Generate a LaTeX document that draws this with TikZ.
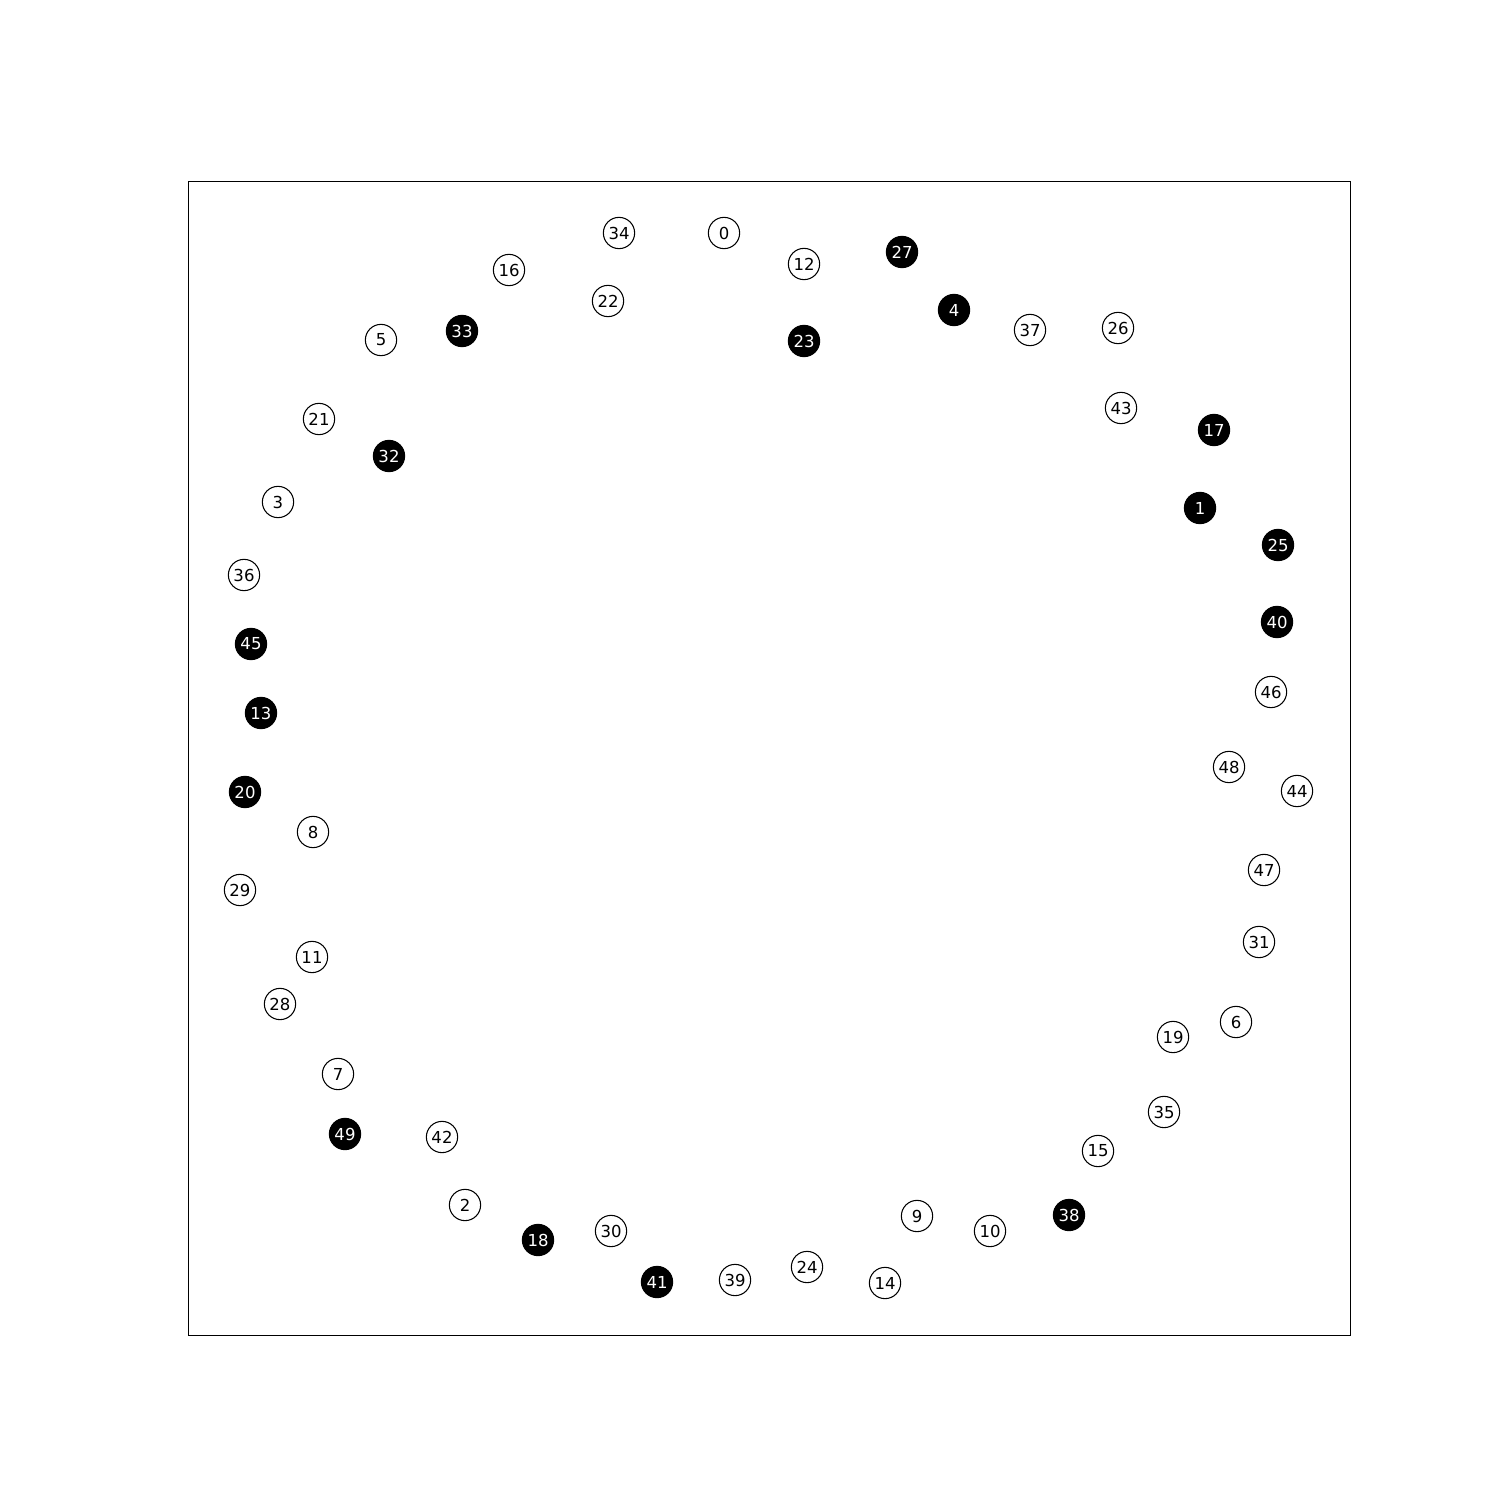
\documentclass[tikz,border=0pt]{standalone}
\usepackage{fontspec}
\setmainfont{DejaVu Sans}
\begin{document}
\begin{tikzpicture}[x=0.02cm,y=-0.02cm,
  wnode/.style={circle,draw=black,line width=0.6pt,fill=white,minimum size=17.8pt,inner sep=0pt,font=\fontsize{9.4}{10}\selectfont},
  bnode/.style={circle,draw=black,line width=0.6pt,fill=black,text=white,minimum size=17.8pt,inner sep=0pt,font=\fontsize{9.4}{10}\selectfont}]
\useasboundingbox (0,0) rectangle (1500,1500);
\draw[line width=0.5pt] (188,181) rectangle (1350,1335);
\foreach \n/\x/\y in {34/619/233,0/724/233,12/804/264,16/509/270,22/608/301,5/381/340,37/1030/330,26/1118/328,21/319/419,43/1121/408,3/278/502,36/244/575,46/1271/692,48/1229/767,44/1297/791,8/313/832,47/1264/870,29/240/890,31/1259/942,11/312/957,28/280/1004,6/1236/1022,19/1173/1037,7/338/1074,35/1164/1112,42/442/1137,15/1098/1151,2/465/1205,9/917/1216,10/990/1231,30/611/1231,39/735/1280,24/807/1267,14/885/1283}
  \node[wnode] (n\n) at (\x,\y) {\n};
\foreach \n/\x/\y in {27/902/252,33/462/331,23/804/341,4/954/310,32/389/456,17/1214/430,1/1200/508,25/1278/545,40/1277/622,45/251/644,13/261/713,20/245/792,49/345/1134,38/1069/1215,18/538/1240,41/657/1282}
  \node[bnode] (n\n) at (\x,\y) {\n};
\end{tikzpicture}
\end{document}
